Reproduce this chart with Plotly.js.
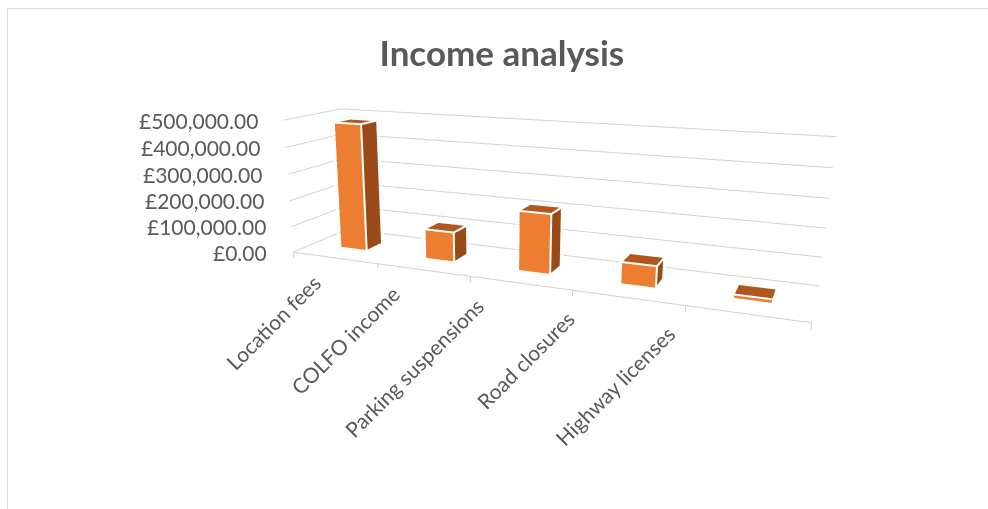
<!DOCTYPE html>
<html><head><meta charset="utf-8">
<script src="https://cdn.plot.ly/plotly-3.0.1.min.js"></script>
<style>
html,body{margin:0;padding:0;background:#fff;}
#wrap{position:relative;width:988px;height:509px;overflow:hidden;background:#fff;}
#chart{position:absolute;left:0;top:-96px;width:988px;height:700px;}
#frame{position:absolute;left:7px;top:8px;width:1000px;height:520px;border:1.5px solid #d9d9d9;pointer-events:none;}
</style></head><body>
<div id="wrap"><div id="chart"></div><div id="frame"></div></div>
<script>
const categories = ['Location fees', 'COLFO income', 'Parking suspensions', 'Road closures', 'Highway licenses'];
const values = [480000, 110000, 215000, 75000, 12000];
const tickValues = [0, 100000, 200000, 300000, 400000, 500000];
const tickLabels = ['£0.00', '£100,000.00', '£200,000.00', '£300,000.00', '£400,000.00', '£500,000.00'];

const FRONT = '#ED7D31', SIDE = '#9A4A18', TOP = '#B0571D';
const GRID = '#d0d0d0';
const HALF = 0.155, Y0 = 0.36, Y1 = 0.64;
const ZMIN = -22000, ZMAX = 500000;
const FONT = 'Lato, "Open Sans", sans-serif';
const TXT = '#595959';

const traces = [];
categories.forEach((c, n) => {
  const xc = n + 0.5, x0 = xc - HALF, x1 = xc + HALF, z = values[n];
  traces.push({
    type: 'mesh3d',
    x: [x0, x1, x1, x0, x0, x1, x1, x0],
    y: [Y0, Y0, Y1, Y1, Y0, Y0, Y1, Y1],
    z: [0, 0, 0, 0, z, z, z, z],
    i: [0, 0, 1, 1, 4, 4, 0, 0, 3, 3, 0, 0],
    j: [1, 5, 2, 6, 5, 6, 3, 7, 2, 6, 1, 2],
    k: [5, 4, 6, 5, 6, 7, 7, 4, 6, 7, 2, 3],
    facecolor: [FRONT, FRONT, SIDE, SIDE, TOP, TOP, SIDE, SIDE, SIDE, SIDE, SIDE, SIDE],
    flatshading: true,
    lighting: {ambient: 1, diffuse: 0, specular: 0, roughness: 1, fresnel: 0},
    hoverinfo: 'skip', showscale: false
  });
  // white outline, slightly outside the bar so it is not hidden by the faces
  const ex = 0.012, ey = 0.025, ez = 3000;
  const a0 = x0 - ex, a1 = x1 + ex, b0 = Y0 - ey, b1 = Y1 + ey, zt = z + ez;
  const P = [[a0,b0,0],[a1,b0,0],[a1,b1,0],[a0,b1,0],[a0,b0,zt],[a1,b0,zt],[a1,b1,zt],[a0,b1,zt]];
  const path = [0,1,5,4,0,null,4,7,6,5,null,1,2,6];
  traces.push({
    type: 'scatter3d', mode: 'lines',
    x: path.map(p => p === null ? null : P[p][0]),
    y: path.map(p => p === null ? null : P[p][1]),
    z: path.map(p => p === null ? null : P[p][2]),
    line: {color: '#ffffff', width: 4},
    hoverinfo: 'skip', showlegend: false
  });
});

// floor front edge with category tick marks
const edgeX = [0, 5], edgeY = [0, 0], edgeZ = [0, 0];
for (let k = 0; k <= categories.length; k++) {
  edgeX.push(null, k, k); edgeY.push(null, 0, 0); edgeZ.push(null, 0, ZMIN);
}
traces.push({type: 'scatter3d', mode: 'lines', x: edgeX, y: edgeY, z: edgeZ,
  line: {color: GRID, width: 2}, hoverinfo: 'skip', showlegend: false});

const annotations = [];
categories.forEach((c, n) => {
  annotations.push({x: n + 0.5, y: 0, z: 0, text: c, textangle: -45, showarrow: false,
    xanchor: 'right', yanchor: 'top',
    xshift: -7 - 8 * n - 1.6 * n * n, yshift: -10 + 1.5 * n,
    font: {family: FONT, size: 21, color: TXT}});
});
tickValues.forEach((v, n) => {
  annotations.push({x: 0, y: 0, z: v, text: tickLabels[n], showarrow: false,
    xanchor: 'right', yanchor: 'middle', xshift: -24,
    font: {family: FONT, size: 21, color: TXT}});
});

// camera: view direction from azimuth/elevation
const theta = 23.5 * Math.PI / 180, phi = 16.5 * Math.PI / 180, R = 4.13;
const center = {x: -0.180, y: -0.158, z: -0.240};
const eye = {x: center.x + R * Math.sin(theta) * Math.cos(phi),
             y: center.y - R * Math.cos(theta) * Math.cos(phi),
             z: center.z + R * Math.sin(phi)};

const axBase = {title: {text: ''}, showbackground: false, showspikes: false, zeroline: false,
  showticklabels: false, showline: false, ticks: ''};
const layout = {
  width: 988, height: 700,
  margin: {l: 0, r: 0, t: 0, b: 0},
  paper_bgcolor: 'rgba(0,0,0,0)',
  showlegend: false,
  title: {text: 'Income analysis', x: 0.508, xanchor: 'center', y: 0.786, yanchor: 'middle', yref: 'container',
    font: {family: FONT, size: 35, color: TXT, weight: 'bold'}},
  scene: {
    domain: {x: [0, 1], y: [0, 1]},
    aspectmode: 'manual',
    aspectratio: {x: 2.6, y: 0.52, z: 0.731},
    camera: {eye: eye, center: center, up: {x: 0, y: 0, z: 1}, projection: {type: 'perspective'}},
    xaxis: Object.assign({}, axBase, {range: [0, 5], showgrid: false}),
    yaxis: Object.assign({}, axBase, {range: [0, 1], showgrid: false}),
    zaxis: Object.assign({}, axBase, {range: [ZMIN, ZMAX], tickvals: tickValues, showgrid: true, gridcolor: GRID, gridwidth: 2}),
    annotations: annotations
  }
};
Plotly.newPlot('chart', traces, layout, {displayModeBar: false});
</script>
</body></html>
